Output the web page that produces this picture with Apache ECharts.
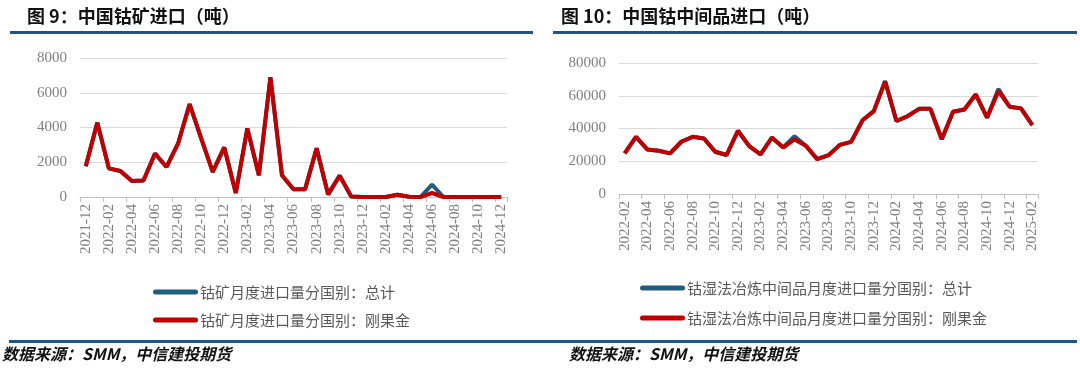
<!DOCTYPE html>
<html>
<head>
<meta charset="utf-8">
<script src="https://cdn.jsdelivr.net/npm/echarts@6/dist/echarts.min.js"></script>
<style>
html,body{margin:0;padding:0;background:#fff;}
#c{width:1080px;height:374px;}
</style>
</head>
<body>
<div id="c"></div>
<script>
const leftCategories = ['2021-12','2022-01','2022-02','2022-03','2022-04','2022-05','2022-06','2022-07','2022-08','2022-09','2022-10','2022-11','2022-12','2023-01','2023-02','2023-03','2023-04','2023-05','2023-06','2023-07','2023-08','2023-09','2023-10','2023-11','2023-12','2024-01','2024-02','2024-03','2024-04','2024-05','2024-06','2024-07','2024-08','2024-09','2024-10','2024-11','2024-12'];
const oreTotal = [1770,4280,1650,1500,920,950,2500,1730,3080,5350,3370,1450,2850,230,3950,1250,6900,1250,440,440,2800,150,1230,30,0,0,0,130,20,0,710,0,0,0,0,0,0];
const oreCongo = [1770,4280,1650,1500,920,950,2500,1730,3080,5350,3370,1450,2850,230,3950,1250,6900,1250,440,440,2800,150,1230,30,0,0,0,130,20,0,230,0,0,0,0,0,0];

const rightCategories = ['2022-02','2022-03','2022-04','2022-05','2022-06','2022-07','2022-08','2022-09','2022-10','2022-11','2022-12','2023-01','2023-02','2023-03','2023-04','2023-05','2023-06','2023-07','2023-08','2023-09','2023-10','2023-11','2023-12','2024-01','2024-02','2024-03','2024-04','2024-05','2024-06','2024-07','2024-08','2024-09','2024-10','2024-11','2024-12','2025-01','2025-02'];
const interTotal = [24800,34900,27200,26400,24800,31900,34900,33900,25800,23800,38600,29200,24200,34500,28400,35300,29500,21300,23700,30000,31800,45000,50600,68900,44600,47600,52000,52000,33400,50200,51600,60800,46600,64200,53300,52300,42100];
const interCongo = [24800,34900,27200,26400,24800,31900,34900,33900,25800,23800,38600,29200,24200,34500,28400,33300,29500,21300,23700,30000,31800,45000,50600,68900,44600,47600,52000,52000,33400,50200,51600,60800,46600,62800,53300,52300,42100];

const leftNames = ['钴矿月度进口量分国别：总计','钴矿月度进口量分国别：刚果金'];
const rightNames = ['钴湿法冶炼中间品月度进口量分国别：总计','钴湿法冶炼中间品月度进口量分国别：刚果金'];
const titles = ['图 9：中国钴矿进口（吨）','图 10：中国钴中间品进口（吨）'];
const source = '数据来源：SMM，中信建投期货';

const BLUE = '#1F5C7E', RED = '#C00000', RULE = '#1F5583';
const axisFont = {fontFamily:'Liberation Serif', fontSize:15, color:'#808080'};
const LEGEND_ICON = 'path://M2.5,0 L42.5,0 A2.5,2.5 0 0 1 42.5,5 L2.5,5 A2.5,2.5 0 0 1 2.5,0 Z';

function xAxis(grid, cats){
  return {type:'category', gridIndex:grid, data:cats, boundaryGap:true,
    axisLine:{lineStyle:{color:'#bfbfbf'}},
    axisTick:{show:true, interval:1, length:5, lineStyle:{color:'#bfbfbf'}},
    axisLabel:Object.assign({interval:1, rotate:90, margin:7}, axisFont)};
}
function yAxis(grid, max, step){
  return {type:'value', gridIndex:grid, min:0, max:max, interval:step,
    axisLine:{show:false}, axisTick:{show:false},
    axisLabel:Object.assign({margin:13, formatter:function(v){return String(v);}}, axisFont),
    splitLine:{lineStyle:{color:'#d9d9d9', width:1}}};
}
function line(name, data, color, idx){
  return {type:'line', name:name, data:data, xAxisIndex:idx, yAxisIndex:idx,
    showSymbol:false, symbol:'none', lineStyle:{color:color, width:4}, itemStyle:{color:color}, animation:false};
}
function legend(names, left, top, gap){
  return {data:names, orient:'vertical', left:left, top:top, itemGap:gap,
    icon:LEGEND_ICON, itemWidth:45, itemHeight:5, itemStyle:{borderWidth:0},
    textStyle:{fontFamily:'Noto Sans CJK SC', fontSize:15, color:'#595959', lineHeight:16, padding:[0,0,0,-3]}};
}

const chart = echarts.init(document.getElementById('c'), null, {renderer:'canvas'});
chart.setOption({
  animation:false,
  title:[
    {text:titles[0], left:22, top:2, textStyle:{fontFamily:'Noto Sans CJK SC', fontWeight:'bold', fontSize:18, color:'#111'}},
    {text:titles[1], left:556, top:2, textStyle:{fontFamily:'Noto Sans CJK SC', fontWeight:'bold', fontSize:18, color:'#111'}}
  ],
  grid:[
    {left:80, right:573, top:58, bottom:177},
    {left:619, right:42, top:63, bottom:180}
  ],
  xAxis:[xAxis(0, leftCategories), xAxis(1, rightCategories)],
  yAxis:[yAxis(0, 8000, 2000), yAxis(1, 80000, 20000)],
  legend:[legend(leftNames, 148, 279, 12), legend(rightNames, 635, 275, 14)],
  series:[
    line(leftNames[0], oreTotal, BLUE, 0),
    line(leftNames[1], oreCongo, RED, 0),
    line(rightNames[0], interTotal, BLUE, 1),
    line(rightNames[1], interCongo, RED, 1)
  ],
  graphic:[
    {type:'rect', shape:{x:10, y:31, width:523, height:3}, style:{fill:RULE}},
    {type:'rect', shape:{x:553, y:31, width:524, height:3}, style:{fill:RULE}},
    {type:'rect', shape:{x:9, y:340, width:1068, height:3}, style:{fill:RULE}},
    {type:'text', left:2, top:346, style:{text:source, font:'italic bold 16px "Noto Sans CJK SC"', fill:'#111'}},
    {type:'text', left:569, top:346, style:{text:source, font:'italic bold 16px "Noto Sans CJK SC"', fill:'#111'}}
  ]
});
</script>
</body>
</html>
